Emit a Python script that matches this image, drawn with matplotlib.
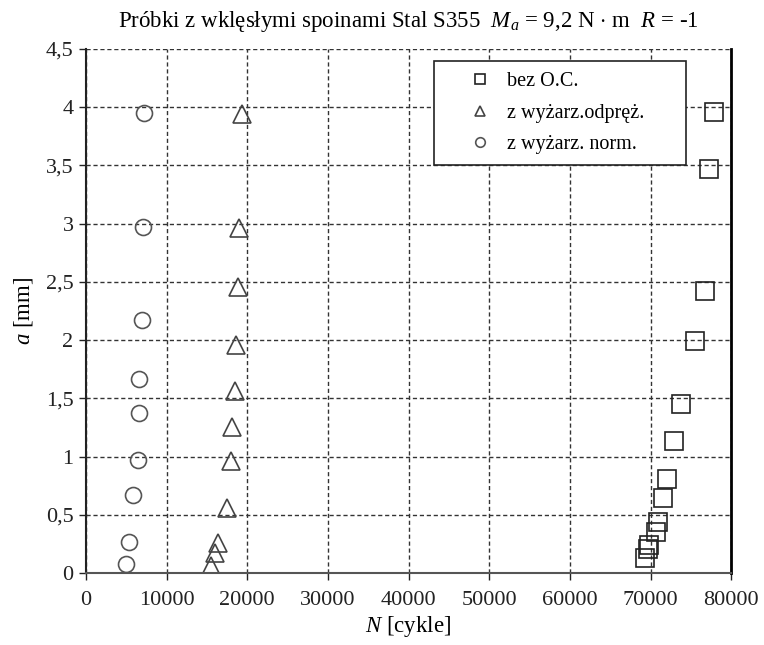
import numpy as np
import matplotlib
matplotlib.use("Agg")
import matplotlib.pyplot as plt
from matplotlib.ticker import FuncFormatter

plt.rcParams['font.family'] = ['Liberation Serif', 'DejaVu Serif']
plt.rcParams['mathtext.fontset'] = 'custom'
plt.rcParams['mathtext.rm'] = 'Liberation Serif'
plt.rcParams['mathtext.it'] = 'Liberation Serif:italic'

# bez O.C.
n_bez = [69320, 69750, 69850, 70640, 70890, 71510, 72080, 72950, 73740, 75520, 76760, 77290, 77870]
a_bez = [0.13, 0.21, 0.24, 0.35, 0.44, 0.64, 0.81, 1.13, 1.45, 1.99, 2.42, 3.47, 3.96]

# z wyzarz. odprez.
n_odp = [15460, 16000, 16400, 17450, 17940, 18140, 18440, 18560, 18800, 18970, 19300]
a_odp = [0.06, 0.17, 0.26, 0.56, 0.96, 1.25, 1.56, 1.96, 2.46, 2.96, 3.94]

# z wyzarz. norm.
n_norm = [4960, 5290, 5870, 6410, 6570, 6530, 6900, 7030, 7230]
a_norm = [0.08, 0.27, 0.67, 0.97, 1.37, 1.67, 2.17, 2.97, 3.95]

x_ticks = np.arange(0, 80001, 10000)
y_ticks = np.arange(0, 4.51, 0.5)

fig = plt.figure(figsize=(7.64, 6.45), dpi=100)
ax = fig.add_axes([0.1126, 0.1116, 0.957 - 0.1126, 0.924 - 0.1116])

ax.plot(n_bez, a_bez, linestyle='none', marker='s', markersize=12.5,
        markerfacecolor='none', markeredgecolor='#222222', markeredgewidth=1.2, label='bez O.C.')
ax.plot(n_odp, a_odp, linestyle='none', marker='^', markersize=12.5,
        markerfacecolor='none', markeredgecolor='#444444', markeredgewidth=1.2, label='z wyżarz.odpręż.')
ax.plot(n_norm, a_norm, linestyle='none', marker='o', markersize=11.5,
        markerfacecolor='none', markeredgecolor='#555555', markeredgewidth=1.2, label='z wyżarz. norm.')

ax.set_xlim(0, 80000)
ax.set_ylim(0, 4.5)
ax.set_xticks(x_ticks)
ax.set_yticks(y_ticks)
ax.yaxis.set_major_formatter(FuncFormatter(lambda v, p: ('%g' % v).replace('.', ',')))
ax.tick_params(labelsize=16, length=5, width=1, direction='out', colors='#222222')
ax.tick_params(axis='x', pad=8)
ax.tick_params(axis='y', pad=4)

ax.grid(True, color='#333333', linestyle=(0, (3, 2)), linewidth=1.0)
ax.spines['top'].set_visible(False)
ax.spines['right'].set_linestyle((0, (3, 1)))
ax.spines['right'].set_linewidth(2)
ax.spines['left'].set_linewidth(1.5)
ax.spines['bottom'].set_linewidth(1.5)
ax.spines['left'].set_color('#222222')
ax.spines['bottom'].set_color('#555555')

ax.set_xlabel(r'$N$ [cykle]', fontsize=16.5, labelpad=3)
ax.set_ylabel(r'$a$ [mm]', fontsize=16.5, labelpad=8)
ax.set_title(r'Próbki z wklęsłymi spoinami Stal S355  $M_a$ = 9,2 N $\cdot$ m  $R$ = -1',
             fontsize=16.5, pad=16)

leg = ax.legend(loc='upper left', bbox_to_anchor=(0.5395, 0.5, 0.3907, 0.477), mode='expand',
                fontsize=14.5, markerscale=0.6, frameon=True, fancybox=False, borderpad=0.55,
                labelspacing=0.62, handlelength=3.5, handletextpad=-0.45, borderaxespad=0)
leg.get_frame().set_edgecolor('#222222')
leg.get_frame().set_linewidth(1.2)
leg.get_frame().set_alpha(1)

fig.savefig('out.png', dpi=100)
